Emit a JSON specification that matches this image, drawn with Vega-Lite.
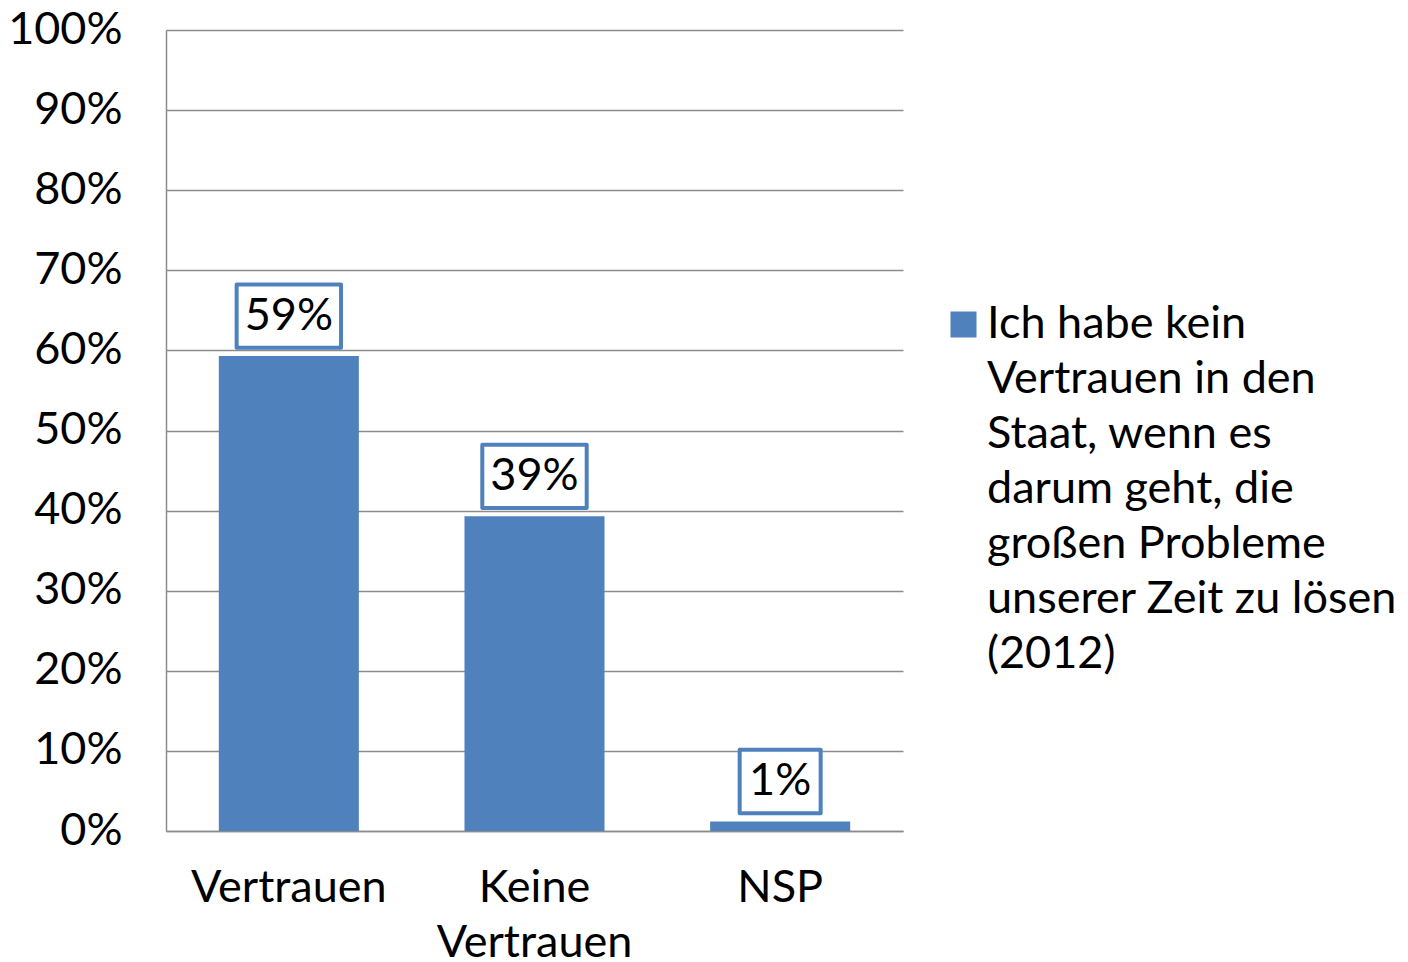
{
  "$schema": "https://vega.github.io/schema/vega-lite/v6.json",
  "width": 737,
  "height": 801,
  "autosize": {"type": "none"},
  "padding": {"left": 166, "top": 30, "right": 505, "bottom": 131},
  "background": "white",
  "config": {
    "view": {"stroke": null},
    "font": "Lato",
    "style": {"guide-label": {"lineHeight": 55, "dy": -23}},
    "axis": {"labelFont": "Lato", "labelColor": "black", "labelFontSize": 45, "ticks": false, "domainColor": "#8c8c8c", "domainWidth": 1.5, "gridColor": "#8c8c8c", "gridWidth": 1.5},
    "legend": {"labelFont": "Lato", "labelFontSize": 45, "labelColor": "black"}
  },
  "data": {
    "values": [
      {"cat": "Vertrauen", "value": 0.593, "label": "59%", "series": "Ich habe kein Vertrauen in den Staat, wenn es darum geht, die großen Probleme unserer Zeit zu lösen (2012)"},
      {"cat": "Keine Vertrauen", "value": 0.393, "label": "39%", "series": "Ich habe kein Vertrauen in den Staat, wenn es darum geht, die großen Probleme unserer Zeit zu lösen (2012)"},
      {"cat": "NSP", "value": 0.012, "label": "1%", "series": "Ich habe kein Vertrauen in den Staat, wenn es darum geht, die großen Probleme unserer Zeit zu lösen (2012)"}
    ]
  },
  "encoding": {
    "x": {
      "field": "cat", "type": "nominal", "sort": null, "title": null,
      "scale": {"paddingInner": 0.43, "paddingOuter": 0.215},
      "axis": {"labelAngle": 0, "labelPadding": 57, "labelLimit": 0, "labelLineHeight": 55, "labelBaseline": "top", "labelExpr": "split(datum.label, ' ')", "grid": false}
    },
    "y": {
      "field": "value", "type": "quantitative", "title": null,
      "scale": {"domain": [0, 1], "nice": false},
      "axis": {"values": [0, 0.1, 0.2, 0.3, 0.4, 0.5, 0.6, 0.7, 0.8, 0.9, 1], "format": ".0%", "labelPadding": 44, "labelBaseline": "top", "grid": true}
    }
  },
  "layer": [
    {
      "mark": {"type": "bar"},
      "encoding": {
        "color": {
          "field": "series", "type": "nominal",
          "scale": {"range": ["#4f81bd"]},
          "legend": {
            "title": null, "orient": "none", "legendX": 775, "legendY": 272,
            "symbolType": "square", "symbolSize": 676, "symbolStrokeWidth": 0,
            "labelOffset": 1, "labelLimit": 1000, "padding": 0, "labelBaseline": "top",
            "labelExpr": "['Ich habe kein', 'Vertrauen in den', 'Staat, wenn es', 'darum geht, die', 'großen Probleme', 'unserer Zeit zu lösen', '(2012)']"
          }
        }
      }
    },
    {
      "mark": {"type": "point", "filled": true, "fill": "white", "stroke": "#4f81bd", "strokeWidth": 4, "strokeJoin": "round", "opacity": 1, "size": 11236},
      "encoding": {
        "shape": {
          "field": "label", "type": "nominal", "legend": null,
          "scale": {
            "domain": ["59%", "39%", "1%"],
            "range": [
              "M-0.985,-1.35H0.985V-0.155H-0.985Z",
              "M-0.985,-1.35H0.985V-0.155H-0.985Z",
              "M-0.764,-1.35H0.764V-0.155H-0.764Z"
            ]
          }
        }
      }
    },
    {
      "mark": {"type": "text", "baseline": "middle", "align": "center", "dy": -40, "fontSize": 45, "font": "Lato", "color": "black"},
      "encoding": {"text": {"field": "label"}}
    }
  ]
}
